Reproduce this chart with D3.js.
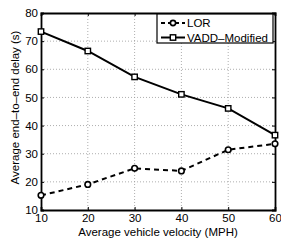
<!DOCTYPE html>
<html>
<head>
<meta charset="utf-8">
<script src="https://cdn.jsdelivr.net/npm/d3@7"></script>
<style>
  body { margin: 0; background: #fff; }
  text { font-family: "Liberation Sans", Arial, sans-serif; fill: #000; }
  .grid line { stroke: #999; stroke-dasharray: 1,2; stroke-width: 0.8; }
</style>
</head>
<body>
<svg id="chart" width="281" height="240"></svg>
<script>
// data
var velocity = [10, 20, 30, 40, 50, 60];
var lorDelay = [15.2, 19.1, 24.8, 23.9, 31.4, 33.5];
var vaddDelay = [73.4, 66.5, 57.3, 51.1, 46.1, 36.6];
var xTicks = [10, 20, 30, 40, 50, 60];
var yTicks = [10, 20, 30, 40, 50, 60, 70, 80];

var margin = {top: 13, right: 6, bottom: 30, left: 41},
    width = 281 - margin.left - margin.right,
    height = 240 - margin.top - margin.bottom;

var svg = d3.select("#chart");
var g = svg.append("g").attr("transform", "translate(" + margin.left + "," + margin.top + ")");

var x = d3.scaleLinear().domain([10, 60]).range([0, width]);
var y = d3.scaleLinear().domain([10, 80]).range([height, 0]);

// grid
var grid = g.append("g").attr("class", "grid");
grid.selectAll(".gx").data(xTicks.slice(1, -1)).enter().append("line")
  .attr("x1", d => x(d)).attr("x2", d => x(d)).attr("y1", 0).attr("y2", height);
grid.selectAll(".gy").data(yTicks.slice(1, -1)).enter().append("line")
  .attr("y1", d => y(d)).attr("y2", d => y(d)).attr("x1", 0).attr("x2", width);

// axes (ticks inward)
g.append("g").attr("transform", "translate(0," + height + ")")
  .call(d3.axisBottom(x).tickValues(xTicks).tickSize(-3).tickPadding(4));
g.append("g")
  .call(d3.axisLeft(y).tickValues(yTicks).tickSize(-3).tickPadding(3));
g.append("g").call(d3.axisTop(x).tickValues(xTicks).tickSize(-3).tickFormat(""));
g.append("g").attr("transform", "translate(" + width + ",0)")
  .call(d3.axisRight(y).tickValues(yTicks).tickSize(-3).tickFormat(""));

g.selectAll(".domain").attr("stroke", "#000").attr("stroke-width", 1.8);
g.selectAll(".tick line").attr("stroke", "#000");
g.selectAll(".tick text").style("font-size", "11.5px").attr("font-family", "Liberation Sans, Arial, sans-serif");

// lines
var lineGen = d3.line().x(d => x(d[0])).y(d => y(d[1]));
var lor = velocity.map((v, i) => [v, lorDelay[i]]);
var vadd = velocity.map((v, i) => [v, vaddDelay[i]]);

g.append("path").datum(vadd).attr("d", lineGen)
  .attr("fill", "none").attr("stroke", "#000").attr("stroke-width", 2);
g.append("path").datum(lor).attr("d", lineGen)
  .attr("fill", "none").attr("stroke", "#000").attr("stroke-width", 2)
  .attr("stroke-dasharray", "5,4");

g.selectAll(".sq").data(vadd).enter().append("rect")
  .attr("x", d => x(d[0]) - 2.7).attr("y", d => y(d[1]) - 2.7)
  .attr("width", 5.4).attr("height", 5.4)
  .attr("fill", "#fff").attr("stroke", "#000").attr("stroke-width", 1.4);
g.selectAll(".ci").data(lor).enter().append("circle")
  .attr("cx", d => x(d[0])).attr("cy", d => y(d[1])).attr("r", 2.8)
  .attr("fill", "#fff").attr("stroke", "#000").attr("stroke-width", 1.6);

// axis labels
svg.append("text")
  .attr("x", margin.left + width / 2).attr("y", 236)
  .attr("text-anchor", "middle").style("font-size", "11.5px")
  .text("Average vehicle velocity (MPH)");
svg.append("text")
  .attr("transform", "translate(19," + (margin.top + height / 2 - 4) + ") rotate(-90)")
  .attr("text-anchor", "middle").style("font-size", "11.5px")
  .text("Average end\u2013to\u2013end delay (s)");

// legend
var legend = svg.append("g").attr("transform", "translate(157,14)");
legend.append("rect").attr("width", 116).attr("height", 29)
  .attr("fill", "#fff").attr("stroke", "#000").attr("stroke-width", 1.2);
var items = [
  {name: "LOR", dash: "4,3", shape: "circle"},
  {name: "VADD\u2013Modified", dash: null, shape: "rect"}
];
items.forEach(function(it, i) {
  var yy = 9 + i * 14.5;
  legend.append("line").attr("x1", 4).attr("x2", 28).attr("y1", yy).attr("y2", yy)
    .attr("stroke", "#000").attr("stroke-width", 2).attr("stroke-dasharray", it.dash);
  if (it.shape === "circle") {
    legend.append("circle").attr("cx", 16).attr("cy", yy).attr("r", 2.6)
      .attr("fill", "#fff").attr("stroke", "#000").attr("stroke-width", 1.6);
  } else {
    legend.append("rect").attr("x", 13.3).attr("y", yy - 2.7).attr("width", 5.4).attr("height", 5.4)
      .attr("fill", "#fff").attr("stroke", "#000").attr("stroke-width", 1.4);
  }
  legend.append("text").attr("x", 30).attr("y", yy + 4).style("font-size", "11.5px").text(it.name);
});
</script>
</body>
</html>
